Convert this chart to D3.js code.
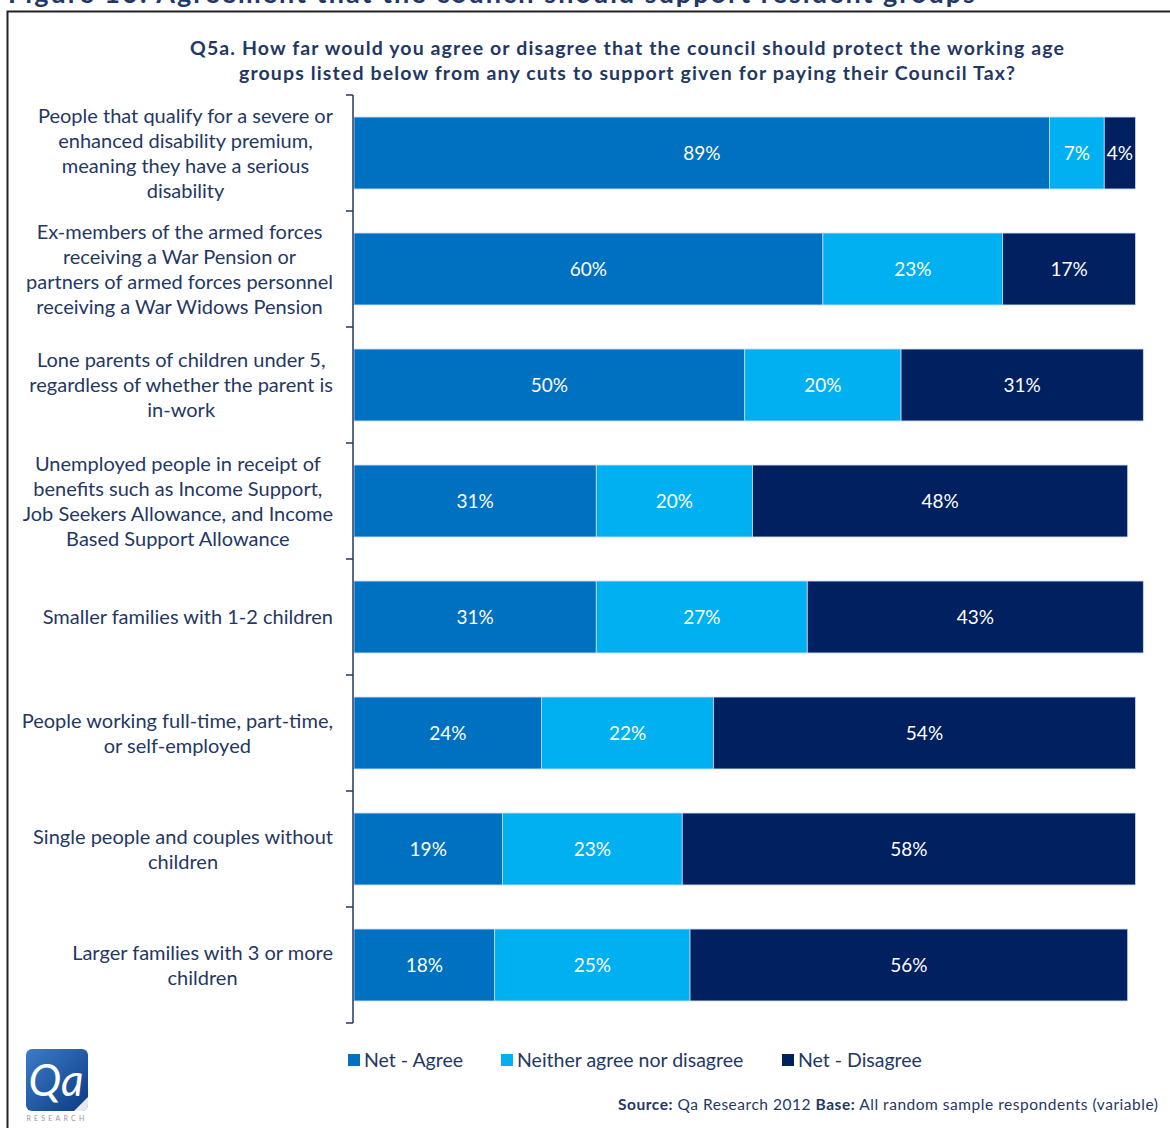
<!DOCTYPE html>
<html>
<head>
<meta charset="utf-8">
<script src="https://cdn.jsdelivr.net/npm/d3@7/dist/d3.min.js"></script>
<style>
  html, body { margin: 0; padding: 0; background: #fff; }
  svg { display: block; }
  text { font-family: Lato, "Open Sans", sans-serif; }
</style>
</head>
<body>
<svg id="chart" width="1170" height="1128"></svg>
<script>
// Survey groups (top to bottom), each label split into its printed lines
const groups = [
  ["People that qualify for a severe or", "enhanced disability premium,", "meaning they have a serious", "disability"],
  ["Ex-members of the armed forces", "receiving a War Pension or", "partners of armed forces personnel", "receiving a War Widows Pension"],
  ["Lone parents of children under 5,", "regardless of whether the parent is", "in-work"],
  ["Unemployed people in receipt of", "benefits such as  Income Support,", "Job Seekers Allowance, and Income", "Based Support Allowance"],
  ["Smaller families with 1-2 children"],
  ["People working full-time, part-time,", "or self-employed"],
  ["Single people and couples without", "children"],
  ["Larger families with 3 or more", "children"]
];

// Percentages per response
const netAgree    = [89, 60, 50, 31, 31, 24, 19, 18];
const neither     = [7, 23, 20, 20, 27, 22, 23, 25];
const netDisagree = [4, 17, 31, 48, 43, 54, 58, 56];

const seriesNames  = ["Net - Agree", "Neither agree nor disagree", "Net - Disagree"];
const seriesColors = ["#0070C0", "#00B0F0", "#002060"];

const svg = d3.select("#chart");
const navy = "#1F3864";

// Page heading (runs above the frame)
svg.append("text")
  .attr("x", 8).attr("y", 3)
  .attr("font-size", 27).attr("font-weight", 700).attr("fill", navy)
  .attr("textLength", 967).attr("lengthAdjust", "spacing")
  .text("Figure 10: Agreement that the council should support resident groups");

// Frame
svg.append("rect")
  .attr("x", 7.5).attr("y", 11.5).attr("width", 1180).attr("height", 1130)
  .attr("fill", "none").attr("stroke", "#222").attr("stroke-width", 2);

// Question title
const titleLines = [
  { text: "Q5a. How far would you agree or disagree that the council should protect the working age", y: 55, w: 874 },
  { text: "groups listed below from any cuts to support given for paying their Council Tax?", y: 80, w: 776 }
];
titleLines.forEach(l => {
  svg.append("text")
    .attr("x", 627).attr("y", l.y).attr("text-anchor", "middle")
    .attr("font-size", 19.5).attr("font-weight", 700).attr("fill", navy)
    .attr("textLength", l.w).attr("lengthAdjust", "spacing")
    .text(l.text);
});

// Scales
const x = d3.scaleLinear().domain([0, 100]).range([354, 1135.5]);
const y = d3.scaleBand().domain(d3.range(groups.length)).range([95, 1023]).paddingInner(0.38).paddingOuter(0.19);

const rows = groups.map((g, i) => ({ i, values: [netAgree[i], neither[i], netDisagree[i]] }));

// Stacked segments
rows.forEach(r => {
  let acc = 0;
  r.values.forEach((v, k) => {
    const x0 = x(acc), x1 = x(acc + v);
    svg.append("rect")
      .attr("x", x0).attr("y", y(r.i))
      .attr("width", x1 - x0).attr("height", y.bandwidth())
      .attr("fill", seriesColors[k])
      .attr("stroke", "#c6d9f1").attr("stroke-width", 0.8);
    svg.append("text")
      .attr("x", (x0 + x1) / 2).attr("y", y(r.i) + y.bandwidth() / 2)
      .attr("dy", "0.36em").attr("text-anchor", "middle")
      .attr("font-size", 19).attr("fill", "#fff")
      .text(v + "%");
    acc += v;
  });
});

// Category axis: line with ticks between groups
const axisX = 353;
const axisTop = 95, axisBottom = 1023;
svg.append("line")
  .attr("x1", axisX).attr("x2", axisX).attr("y1", axisTop).attr("y2", axisBottom)
  .attr("stroke", navy).attr("stroke-width", 1.5);
d3.range(groups.length + 1).forEach(k => {
  const ty = axisTop + k * (axisBottom - axisTop) / groups.length;
  svg.append("line")
    .attr("x1", axisX - 7).attr("x2", axisX).attr("y1", ty).attr("y2", ty)
    .attr("stroke", navy).attr("stroke-width", 1.5);
});

// Category labels: lines centred within their block, block right-aligned to the axis
const lineH = 25;
groups.forEach((lines, i) => {
  const cy = y(i) + y.bandwidth() / 2;
  const g = svg.append("g");
  const texts = lines.map((ln, j) => g.append("text")
    .attr("font-size", 20).attr("fill", navy).attr("text-anchor", "middle")
    .attr("y", cy + (j - (lines.length - 1) / 2) * lineH).attr("dy", "0.35em")
    .text(ln));
  const maxW = d3.max(texts, t => t.node().getComputedTextLength());
  texts.forEach(t => t.attr("x", 333 - maxW / 2));
});

// Legend
const legendX = [348, 501, 782];
seriesNames.forEach((name, k) => {
  svg.append("rect")
    .attr("x", legendX[k]).attr("y", 1054).attr("width", 12).attr("height", 12)
    .attr("fill", seriesColors[k]);
  svg.append("text")
    .attr("x", legendX[k] + 16).attr("y", 1060).attr("dy", "0.35em")
    .attr("font-size", 19.5).attr("fill", navy).text(name);
});

// Source line
const src = svg.append("text").attr("x", 618).attr("y", 1110).attr("font-size", 15.5).attr("fill", navy)
  .attr("textLength", 540).attr("lengthAdjust", "spacing");
src.append("tspan").attr("font-weight", 700).text("Source:");
src.append("tspan").text(" Qa Research 2012  ");
src.append("tspan").attr("font-weight", 700).text("Base:");
src.append("tspan").text("  All random sample respondents (variable)");

// Company logo
const defs = svg.append("defs");
const grad = defs.append("linearGradient").attr("id", "logoGrad")
  .attr("x1", "0").attr("y1", "0").attr("x2", "1").attr("y2", "1");
grad.append("stop").attr("offset", "0").attr("stop-color", "#3d7cc6");
grad.append("stop").attr("offset", "1").attr("stop-color", "#0b3a86");
svg.append("rect").attr("x", 26).attr("y", 1049).attr("width", 62).attr("height", 62)
  .attr("rx", 6).attr("fill", "url(#logoGrad)");
svg.append("path").attr("d", "M74,1111 L88,1097 L88,1105 Q88,1111 82,1111 Z").attr("fill", "#e8e8ef");
svg.append("text").attr("x", 56).attr("y", 1096).attr("text-anchor", "middle")
  .attr("font-family", "'DejaVu Serif', 'Liberation Serif', serif").attr("font-style", "italic")
  .attr("font-size", 44).attr("fill", "#fff").text("Qa");
svg.append("text").attr("x", 57).attr("y", 1121).attr("text-anchor", "middle")
  .attr("font-size", 7).attr("letter-spacing", 3.2).attr("fill", "#999").text("RESEARCH");
</script>
</body>
</html>
